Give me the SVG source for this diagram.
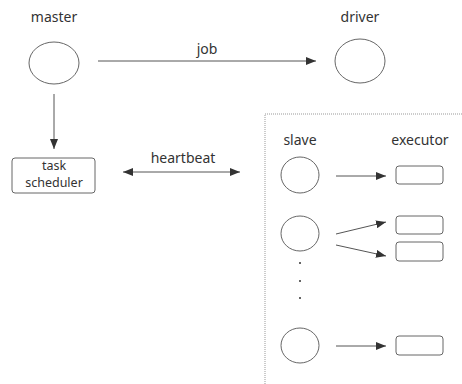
<svg xmlns="http://www.w3.org/2000/svg" width="462" height="384" viewBox="0 0 462 384">
<style>
text{font-family:"Noto Sans","DejaVu Sans",sans-serif;font-size:14px;fill:#333;text-anchor:middle}
text.s{font-size:12.5px}
.n{fill:#fff;stroke:#666;stroke-width:1}
.c{stroke:#555;stroke-width:1;fill:none}
</style>
<defs>
<marker id="ah" markerWidth="10" markerHeight="8" refX="10" refY="4" orient="auto" markerUnits="userSpaceOnUse">
<path d="M0,0 L10,4 L0,8 z" fill="#333"/>
</marker>
<marker id="as" markerWidth="10" markerHeight="8" refX="0" refY="4" orient="auto" markerUnits="userSpaceOnUse">
<path d="M10,0 L0,4 L10,8 z" fill="#333"/>
</marker>
</defs>
<rect x="0" y="0" width="462" height="384" fill="#fff"/>
<rect x="265" y="114" width="210" height="280" fill="none" stroke="#999" stroke-width="1" stroke-dasharray="1,1"/>
<g id="master"><text x="54" y="22">master</text><ellipse class="n" cx="54" cy="63" rx="25" ry="21"/></g>
<g id="driver"><text x="360" y="22">driver</text><ellipse class="n" cx="360" cy="61" rx="25" ry="22"/></g>
<g id="taskscheduler"><rect class="n" x="12" y="158" width="83" height="35" rx="3"/><text class="s" x="54" y="170">task</text><text class="s" x="54" y="187">scheduler</text></g>
<g id="labels"><text x="300" y="145">slave</text><text x="420" y="145">executor</text></g>
<g id="slave1"><ellipse class="n" cx="300" cy="175" rx="19" ry="18"/></g>
<g id="slave2"><ellipse class="n" cx="300" cy="233.5" rx="19" ry="17.5"/></g>
<g id="slave3"><ellipse class="n" cx="300" cy="345.5" rx="19" ry="17.5"/></g>
<g id="exec1"><rect class="n" x="396" y="166" width="47" height="18" rx="3"/></g>
<g id="exec2"><rect class="n" x="396" y="216" width="47" height="18" rx="3"/></g>
<g id="exec3"><rect class="n" x="396" y="242" width="47" height="19" rx="3"/></g>
<g id="exec4"><rect class="n" x="396" y="336" width="47" height="19" rx="3"/></g>
<g id="dots" fill="#333"><circle cx="300" cy="263" r="1"/><circle cx="300" cy="281" r="1"/><circle cx="300" cy="298" r="1"/></g>
<g id="connectors">
<line class="c" x1="98" y1="61" x2="316" y2="61" marker-end="url(#ah)"/>
<text x="207" y="54">job</text>
<line class="c" x1="54" y1="94" x2="54" y2="149" marker-end="url(#ah)"/>
<line class="c" x1="123" y1="172" x2="240" y2="172" marker-start="url(#as)" marker-end="url(#ah)"/>
<text x="183" y="163">heartbeat</text>
<line class="c" x1="336" y1="176" x2="386" y2="176" marker-end="url(#ah)"/>
<line class="c" x1="336" y1="234" x2="386" y2="222" marker-end="url(#ah)"/>
<line class="c" x1="336" y1="245" x2="386" y2="256" marker-end="url(#ah)"/>
<line class="c" x1="336" y1="346" x2="386" y2="346" marker-end="url(#ah)"/>
</g>
</svg>
